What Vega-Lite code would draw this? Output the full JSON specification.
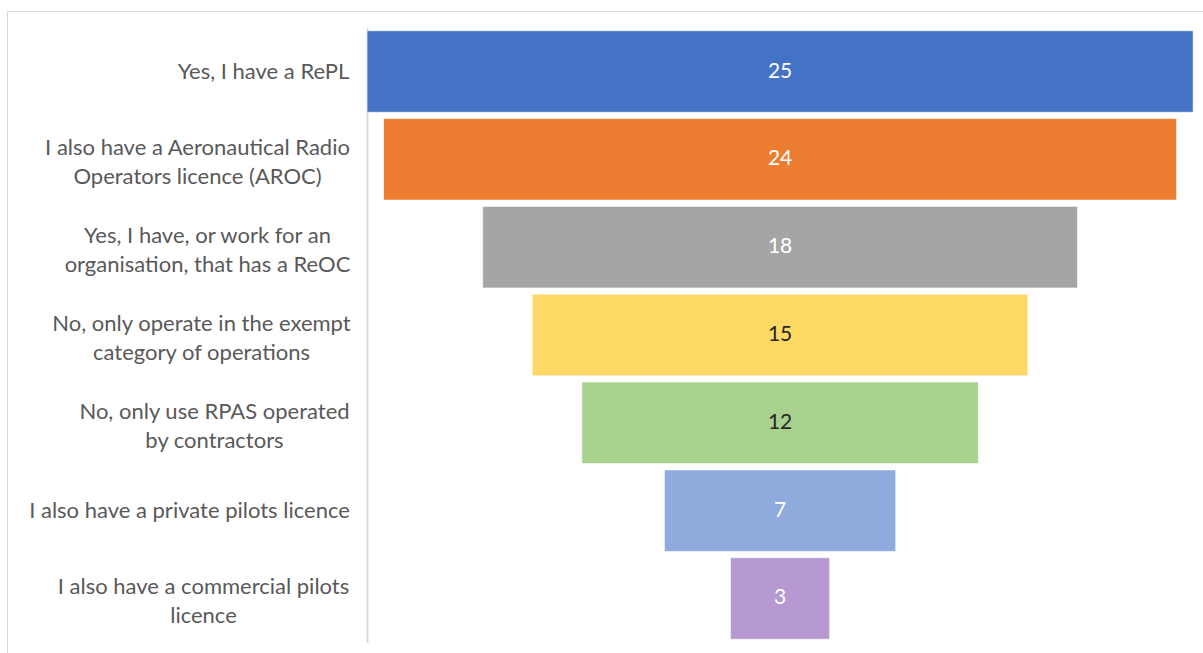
{
  "$schema": "https://vega.github.io/schema/vega-lite/v6.json",
  "width": 1200,
  "height": 650,
  "autosize": {"type": "none"},
  "padding": {"left": 7, "top": 11, "right": 0, "bottom": 0},
  "background": "white",
  "config": {"view": {"stroke": "#D9D9D9", "strokeWidth": 1}},
  "data": {
    "values": [
      {"answer": "Yes, I have a RePL", "value": 25},
      {"answer": "I also have a Aeronautical Radio|Operators licence (AROC)", "value": 24},
      {"answer": "Yes, I have, or work for an|organisation, that has a ReOC", "value": 18},
      {"answer": "No, only operate in the exempt|category of operations", "value": 15},
      {"answer": "No, only use RPAS operated|by  contractors", "value": 12},
      {"answer": "I also have a private pilots licence", "value": 7},
      {"answer": "I also have a commercial pilots|licence", "value": 3}
    ]
  },
  "encoding": {
    "y": {
      "field": "answer",
      "type": "nominal",
      "sort": null,
      "scale": {"range": [16.6, 631.4], "paddingInner": 0.072, "paddingOuter": 0.036},
      "axis": {
        "title": null,
        "offset": -360,
        "ticks": false,
        "domainColor": "#D9D9D9",
        "domainWidth": 2,
        "labelAlign": "center",
        "labelPadding": {
          "condition": [
            {"test": "datum.value == 'Yes, I have a RePL'", "value": 104},
            {"test": "indexof(datum.value, 'Aeronautical') >= 0", "value": 170},
            {"test": "indexof(datum.value, 'ReOC') >= 0", "value": 160},
            {"test": "indexof(datum.value, 'exempt') >= 0", "value": 166},
            {"test": "indexof(datum.value, 'RPAS') >= 0", "value": 153},
            {"test": "indexof(datum.value, 'private') >= 0", "value": 178}
          ],
          "value": 164
        },
        "labelOffset": {
          "condition": {"test": "indexof(datum.value, '|') >= 0", "value": -11},
          "value": 0
        },
        "labelFont": "Lato",
        "labelFontSize": 22,
        "labelColor": "#595959",
        "labelLineHeight": 29,
        "labelLimit": 400,
        "labelExpr": "split(datum.label, '|')"
      }
    }
  },
  "layer": [
    {
      "mark": {"type": "bar", "stroke": "white", "strokeOpacity": 0.6, "strokeWidth": 1},
      "encoding": {
        "x": {
          "field": "value",
          "type": "quantitative",
          "stack": "center",
          "scale": {"domain": [-10.896, 25.42], "nice": false, "zero": false},
          "axis": null
        },
        "color": {
          "field": "answer",
          "type": "nominal",
          "sort": null,
          "scale": {"range": ["#4472C4", "#ED7D31", "#A5A5A5", "#FFD966", "#A9D18E", "#8FAADC", "#B599D0"]},
          "legend": null
        }
      }
    },
    {
      "mark": {"type": "text", "font": "Lato", "fontSize": 21, "baseline": "middle", "align": "center"},
      "encoding": {
        "x": {"datum": 12.5, "type": "quantitative"},
        "text": {"field": "value", "type": "quantitative"},
        "color": {
          "condition": {"test": "datum.value == 15 || datum.value == 12", "value": "#262626"},
          "value": "white"
        }
      }
    }
  ]
}
